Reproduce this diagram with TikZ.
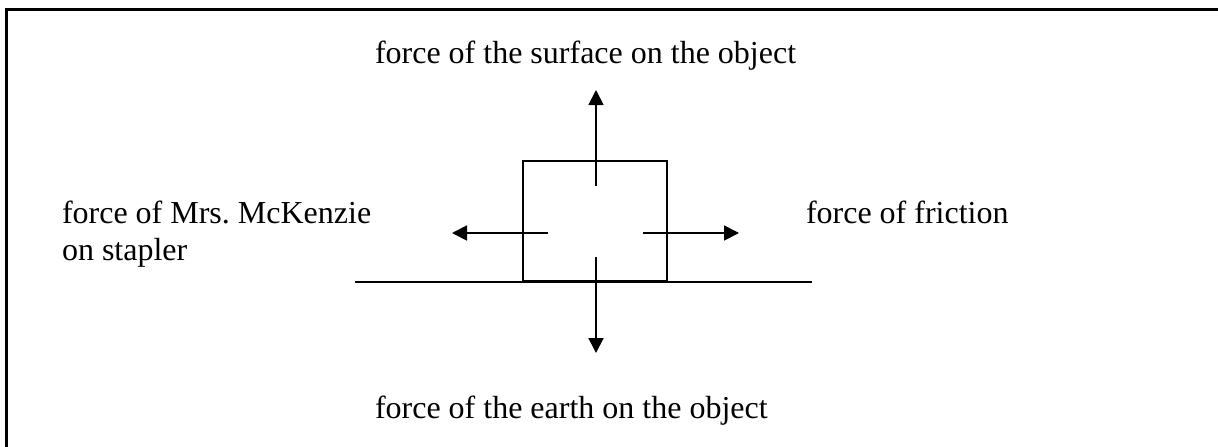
\documentclass[tikz,border=0pt]{standalone}
\usepackage{fontspec}
\setmainfont{Liberation Serif}
\usetikzlibrary{arrows.meta}
\frenchspacing
\begin{document}
\begin{tikzpicture}[x=1pt,y=-1pt,
  lbl/.style={inner sep=0pt, outer sep=0pt, font=\fontsize{32}{37}\selectfont},
  thin/.style={line width=1.8pt},
  force/.style={line width=1.8pt, -{Triangle[length=15pt,width=15pt]}},
  frame/.style={line width=3pt}]
  \useasboundingbox (0,0) rectangle (1218,447);
  \clip (0,0) rectangle (1218,447);
  % frame
  \draw[frame] (6,470) -- (6,9) -- (1240,9);
  % ground and box
  \coordinate (gL) at (355,282);
  \coordinate (gR) at (812,282);
  \draw[thin] (gL) -- (gR);
  \node[draw, thin, minimum width=144pt, minimum height=120pt, inner sep=0pt] (box) at (595,221) {};
  % force arrows
  \coordinate (upS) at (596,186);  \coordinate (upT) at (596,90);
  \coordinate (dnS) at (596,257);  \coordinate (dnT) at (596,353);
  \coordinate (lfS) at (548,233);  \coordinate (lfT) at (452,233);
  \coordinate (rtS) at (643,233);  \coordinate (rtT) at (739,233);
  \draw[force] (upS) -- (upT);
  \draw[force] (dnS) -- (dnT);
  \draw[force] (lfS) -- (lfT);
  \draw[force] (rtS) -- (rtT);
  % labels
  \node[lbl, anchor=base west] (surf) at (375,63) {force of the surface on the object};
  \node[lbl, anchor=base west] (earth) at (375,418) {force of the earth on the object};
  \node[lbl, anchor=base west, align=left] (mck) at (62,260) {force of Mrs.\ McKenzie\\on stapler};
  \node[lbl, anchor=base west] (fric) at (806,223) {force of friction};
\end{tikzpicture}
\end{document}
